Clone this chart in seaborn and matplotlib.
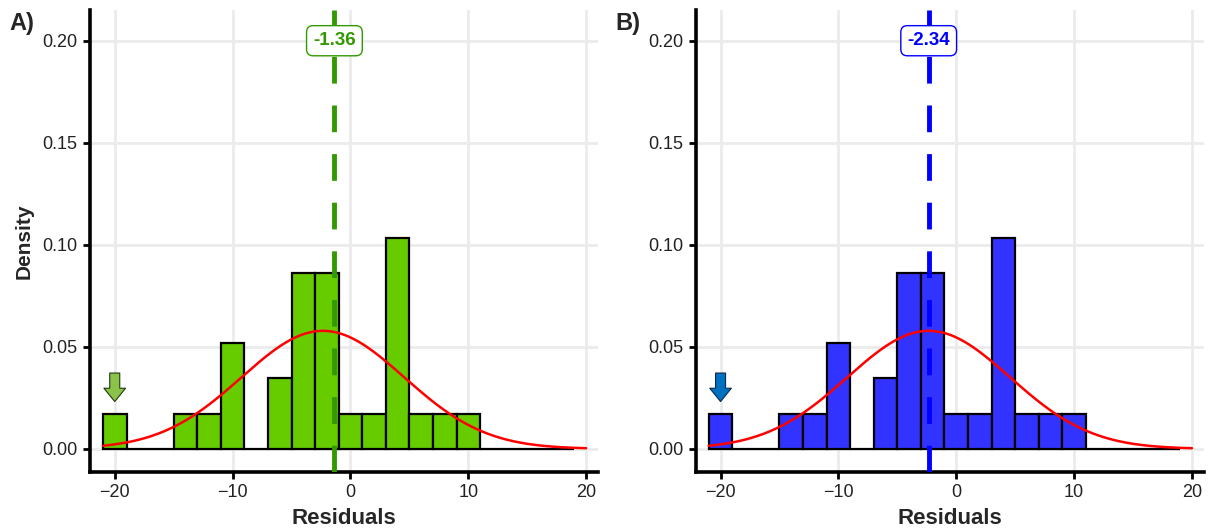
import numpy as np
import pandas as pd
import matplotlib
matplotlib.use("Agg")
import matplotlib.pyplot as plt
import seaborn as sns

# ヒストグラムのデータ（幅2のビン）
bin_edges = [-21, -19, -17, -15, -13, -11, -9, -7, -5, -3, -1, 1, 3, 5, 7, 9, 11, 13, 15, 17, 19]
bin_counts = [1, 0, 0, 1, 1, 3, 0, 2, 5, 5, 1, 1, 6, 1, 1, 1, 0, 0, 0, 0]

# 正規分布の当てはめ
fit_mean = -2.34
fit_sd = 6.9

panel_labels = ["A)", "B)"]
vline_values = [-1.36, -2.34]
fill_colors = ["#66CC00", "#3333FF"]
line_colors = ["#339900", "#0000FF"]
arrow_colors = ["#8BC34A", "#0070C0"]
arrow_x = -20

sns.set_theme(style="white")
plt.rcParams["font.family"] = ["Liberation Sans", "DejaVu Sans"]

centers = [(a + b) / 2 for a, b in zip(bin_edges[:-1], bin_edges[1:])]
hist_df = pd.DataFrame({"x": centers, "n": bin_counts})

xs = np.linspace(-21, 20, 300)
curve = np.exp(-0.5 * ((xs - fit_mean) / fit_sd) ** 2) / (fit_sd * np.sqrt(2 * np.pi))

fig = plt.figure(figsize=(12.08, 5.32), dpi=100)
axes = [fig.add_axes([0.0745, 0.113, 0.4205, 0.868]),
        fig.add_axes([0.576, 0.113, 0.4205, 0.868])]

for i, ax in enumerate(axes):
    ax.set_axisbelow(True)
    ax.grid(True, color="#EBEBEB", linewidth=2)
    sns.histplot(data=hist_df, x="x", weights="n", bins=bin_edges, stat="density",
                 color=fill_colors[i], alpha=1, edgecolor="black", linewidth=1.6, ax=ax)
    sns.lineplot(x=xs, y=curve, color="red", linewidth=1.8, ax=ax)
    ax.axvline(vline_values[i], color=line_colors[i], linewidth=3.5,
               dashes=(5.5, 4.5), zorder=5)
    ax.text(vline_values[i], 0.2, f"{vline_values[i]:.2f}", ha="center", va="center",
            color=line_colors[i], fontsize=13.5, fontweight="bold", zorder=6,
            bbox=dict(boxstyle="round,pad=0.35,rounding_size=0.35", fc="white",
                      ec=line_colors[i], lw=1))
    ax.annotate("", xy=(arrow_x, 0.0218), xytext=(arrow_x, 0.0385),
                arrowprops=dict(arrowstyle="simple,head_width=1.3,head_length=0.8,tail_width=0.6",
                                fc=arrow_colors[i], ec="#1F3A10" if i == 0 else "#0A2A50", lw=0.8))

    ax.set_xlim(-22.1, 21.0)
    ax.set_ylim(-0.0113, 0.215)
    ax.set_xticks([-20, -10, 0, 10, 20])
    ax.set_yticks([0, 0.05, 0.10, 0.15, 0.20])
    ax.set_yticklabels(["0.00", "0.05", "0.10", "0.15", "0.20"])
    ax.set_xticklabels(["\u221220", "\u221210", "0", "10", "20"])
    ax.tick_params(axis="both", direction="out", length=5, width=2, colors="black",
                   labelsize=13, labelcolor="#222222", bottom=True, left=True, pad=4)
    for side in ["top", "right"]:
        ax.spines[side].set_visible(False)
    for side in ["left", "bottom"]:
        ax.spines[side].set_color("black")
        ax.spines[side].set_linewidth(2.6)
    ax.set_xlabel("Residuals", fontsize=16, fontweight="bold", labelpad=5)
    ax.set_ylabel("Density" if i == 0 else "", fontsize=15, fontweight="bold", labelpad=6)
    fig.text(0.008 + 0.5015 * i, 0.955, panel_labels[i], fontsize=17, fontweight="bold",
             ha="left", va="center")

fig.savefig("out.png", dpi=100)
